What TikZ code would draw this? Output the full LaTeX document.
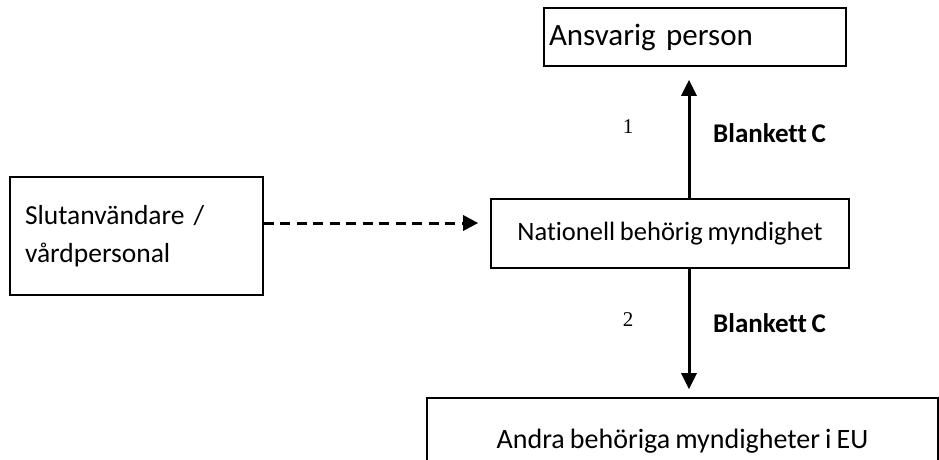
\documentclass[tikz,border=0pt]{standalone}
\usepackage{fontspec}
\setmainfont{Carlito}[Ligatures=NoCommon,WordSpace=0.8]
\newfontfamily\numfont{Liberation Serif}
\usetikzlibrary{arrows.meta}
\begin{document}
\begin{tikzpicture}[x=1pt,y=-1pt,
  box/.style={draw,line width=1.6pt,rectangle,inner sep=0pt},
  arr/.style={line width=3pt,-{Triangle[length=16pt,width=15pt]}},
  dasharr/.style={line width=3pt,dash pattern=on 10pt off 6.5pt,-{Triangle[length=15pt,width=15pt]}},
  lbl/.style={font=\fontsize{27}{32}\selectfont\bfseries,inner sep=0pt},
  num/.style={font=\numfont\fontsize{21}{23}\selectfont,inner sep=0pt}]
\useasboundingbox (0,0) rectangle (939,459);
\clip (0,0) rectangle (939,459);
\node[box,minimum width=302pt,minimum height=58pt,font=\fontsize{31}{37}\selectfont,text width=292pt,align=left] (ansv) at (695,37) {Ansvarig person};
\node[box,minimum width=253pt,minimum height=118pt,font=\fontsize{27.5}{38}\selectfont,text width=223pt,align=left] (slut) at (136.5,236) {Slutanvändare /\\vårdpersonal};
\node[box,minimum width=358pt,minimum height=69pt,font=\fontsize{26.5}{32}\selectfont,align=center] (nat) at (670,233.5) {Nationell behörig myndighet};
\node[box,minimum width=511pt,minimum height=86pt,font=\fontsize{28}{33}\selectfont,align=center] (andra) at (682.5,441) {Andra behöriga myndigheter i EU};
\coordinate (ax) at (689,0);
\coordinate (dy) at (0,223);
\draw[arr] (nat.north -| ax) -- ([yshift=-13pt]ansv.south -| ax);
\draw[arr] (nat.south -| ax) -- ([yshift=8pt]andra.north -| ax);
\draw[dasharr] (slut.east |- dy) -- ([xshift=-12pt]nat.west |- dy);
\node[num] (n1) at (628,127) {1};
\node[num] (n2) at (628,320) {2};
\node[lbl,anchor=west] (b1) at (713,133) {Blankett C};
\node[lbl,anchor=west] (b2) at (713,323) {Blankett C};
\end{tikzpicture}
\end{document}
